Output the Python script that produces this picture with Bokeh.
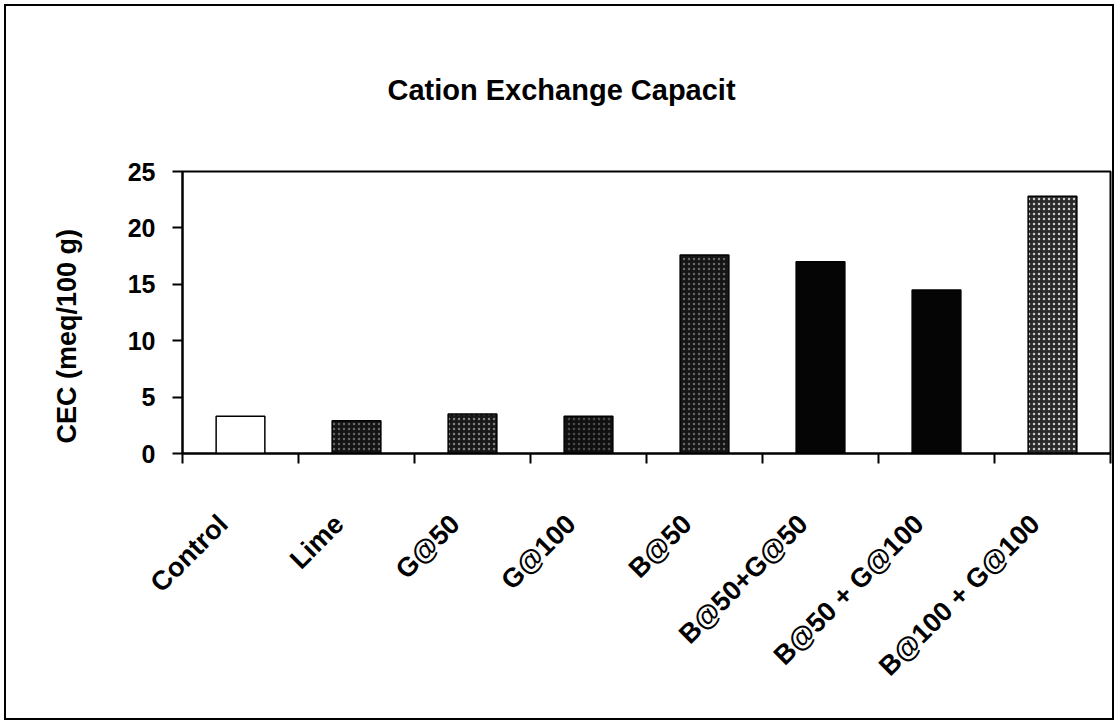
import math
from bokeh.plotting import figure
from bokeh.models import Range1d, LinearAxis, FixedTicker, ColumnDataSource, Title
from bokeh.embed import file_html
from bokeh.resources import INLINE

# Treatments and their cation exchange capacity (meq/100 g)
treatments = ["Control", "Lime", "G@50", "G@100", "B@50",
              "B@50+G@50", "B@50 + G@100", "B@100 + G@100"]
cec_values = [3.3, 2.9, 3.5, 3.3, 17.6, 17.0, 14.5, 22.8]
y_ticks = [0, 5, 10, 15, 20, 25]

# Bar shading and speckle, one per treatment
bar_fills = ["#ffffff", "#141414", "#181818", "#101010", "#151515",
             "#050505", "#050505", "#2a2a2a"]
speckle_alpha = [0.0, 0.35, 0.45, 0.25, 0.35, 0.0, 0.0, 0.75]

FONT = "Liberation Sans"
n = len(treatments)
centers = [i + 0.5 for i in range(n)]
# slanted names end a little left of the bar centre
name_pos = [c - 0.15 for c in centers]

src = ColumnDataSource(dict(x=centers, v=cec_values, c=bar_fills,
                            ha=speckle_alpha))

p = figure(width=1110, height=716, title=None,
           x_range=Range1d(0, n), y_range=Range1d(0, 25),
           x_axis_location=None, y_axis_location=None,
           output_backend="svg", toolbar_location=None,
           min_border_left=176, min_border_right=6,
           min_border_top=165, min_border_bottom=269)
p.styles = {"border": "2px solid black", "margin": "4px 0 0 4px"}

p.outline_line_color = "black"
p.outline_line_width = 2
p.xgrid.visible = False
p.ygrid.visible = False

p.vbar(x="x", top="v", width=0.42, source=src, fill_color="c",
       line_color="black", line_width=1.5,
       hatch_pattern=".", hatch_color="white", hatch_alpha="ha",
       hatch_scale=5, hatch_weight=1.3)

p.add_layout(Title(text="Cation Exchange Capacit", align="left", offset=205,
                   vertical_align="top", standoff=128,
                   text_font=FONT, text_font_size="29px",
                   text_font_style="bold", text_color="black"), "above")

# Value axis
yax = LinearAxis(ticker=FixedTicker(ticks=y_ticks))
yax.major_label_text_font = FONT
yax.major_label_text_font_size = "25px"
yax.major_label_text_font_style = "bold"
yax.major_label_text_color = "black"
yax.major_label_standoff = 17
yax.major_tick_in = 0
yax.major_tick_out = 10
yax.major_tick_line_width = 2
yax.minor_tick_line_color = None
yax.axis_line_width = 2
p.add_layout(yax, "left")

# Axis title for the values, set out beside the tick labels
p.add_layout(Title(text="CEC (meq/100 g)", align="left", offset=10,
                   vertical_align="top",
                   text_font=FONT, text_font_size="27px",
                   text_font_style="bold", text_color="black",
                   standoff=82), "left")

# Category axis: names under each bar, ticks on the category boundaries
xax = LinearAxis(ticker=FixedTicker(ticks=name_pos, minor_ticks=list(range(n + 1))),
                 major_label_overrides={c: t for c, t in zip(name_pos, treatments)})
xax.axis_line_width = 2
xax.major_tick_line_color = None
xax.major_tick_in = 0
xax.major_tick_out = 0
xax.minor_tick_in = 0
xax.minor_tick_out = 10
xax.minor_tick_line_width = 2
xax.minor_tick_line_color = "black"
xax.major_label_orientation = math.pi / 4
xax.major_label_text_font = FONT
xax.major_label_text_font_size = "27px"
xax.major_label_text_font_style = "bold"
xax.major_label_text_color = "black"
xax.major_label_standoff = 56
p.add_layout(xax, "below")

open("out.html", "w").write(file_html(p, INLINE))
